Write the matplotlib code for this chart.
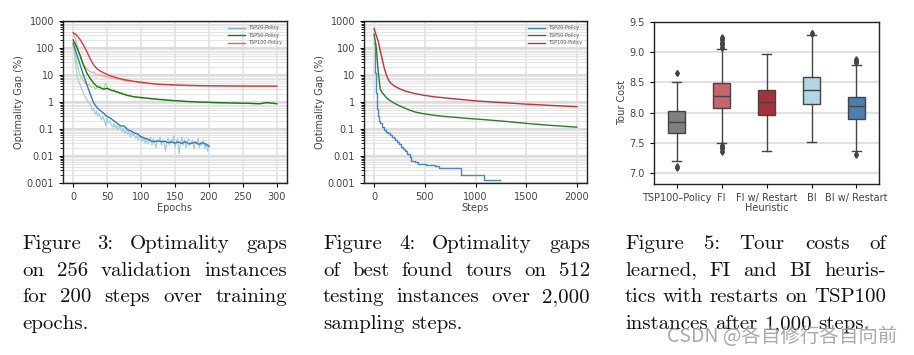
import numpy as np
import matplotlib
matplotlib.use("Agg")
import matplotlib.pyplot as plt
from matplotlib.ticker import FixedLocator, FixedFormatter, LogLocator, NullFormatter

W, H = 914, 355

# ---- Figure 3: validation gap over training epochs
EP20 = np.arange(0, 201, 2)
RAW20 = [150, 60, 20, 9, 6, 4.5, 3.2, 2.6, 1.8, 1.5, 1.3, 1.0, 0.9, 0.75, 0.5, 0.6, 0.35, 0.45, 0.3, 0.38,
         0.28, 0.22, 0.3, 0.2, 0.13, 0.25, 0.17, 0.2, 0.15, 0.12, 0.16, 0.11, 0.14, 0.09, 0.13, 0.1, 0.08,
         0.11, 0.07, 0.09, 0.065, 0.08, 0.05, 0.075, 0.055, 0.07, 0.045, 0.06, 0.04, 0.055, 0.045, 0.035,
         0.05, 0.03, 0.045, 0.028, 0.04, 0.05, 0.025, 0.045, 0.03, 0.02, 0.04, 0.035, 0.05, 0.025, 0.04,
         0.03, 0.015, 0.035, 0.045, 0.025, 0.04, 0.03, 0.055, 0.02, 0.035, 0.045, 0.012, 0.03, 0.05, 0.025,
         0.04, 0.02, 0.035, 0.045, 0.025, 0.03, 0.04, 0.018, 0.035, 0.028, 0.045, 0.02, 0.03, 0.025, 0.04,
         0.018, 0.03, 0.015, 0.025]
SM_EP20 = np.arange(0, 201, 5)
SM20 = [150, 60, 25, 10, 4.5, 2.0, 0.95, 0.62, 0.48, 0.38, 0.29, 0.25, 0.2, 0.16, 0.13, 0.13, 0.095,
        0.085, 0.072, 0.066, 0.052, 0.046, 0.042, 0.036, 0.034, 0.036, 0.034, 0.035, 0.031, 0.033, 0.03,
        0.033, 0.029, 0.034, 0.028, 0.03, 0.032, 0.027, 0.031, 0.028, 0.023]

EP_RAW = np.arange(0, 301, 3)
RAW50 = [120, 60, 25, 12, 8, 6, 5, 4.2, 4.5, 3.5, 3.8, 3.0, 3.6, 4.0, 2.8, 3.1, 5.0, 3.2, 2.8, 2.6, 2.9,
         2.3, 2.5, 2.1, 2.3, 1.9, 2.0, 1.7, 1.8, 1.6, 1.55, 1.6, 1.45, 1.5, 1.4, 1.42, 1.35, 1.38, 1.3, 1.32,
         1.25, 1.28, 1.22, 1.2, 1.23, 1.15, 1.18, 1.12, 1.14, 1.1, 1.12, 1.07, 1.09, 1.05, 1.07, 1.03, 1.05,
         1.01, 1.03, 0.99, 1.01, 0.98, 1.0, 0.97, 0.99, 0.96, 1.02, 0.95, 0.97, 0.94, 0.96, 0.93, 0.95,
         0.92, 0.94, 0.91, 0.93, 0.92, 0.9, 0.93, 0.91, 0.89, 0.92, 0.9, 0.88, 0.91, 0.89, 0.87, 0.9,
         0.86, 0.88, 0.85, 0.87, 0.9, 0.94, 0.92, 0.89, 0.9, 0.87, 0.88, 0.85]
RAW100 = [330, 220, 120, 60, 35, 25, 20, 16, 14, 12.5, 13, 11, 10, 10.5, 9.2, 9.5, 8.5, 8.8, 8, 7.5, 7.8,
          7.0, 7.2, 6.6, 6.8, 6.2, 6.3, 5.9, 6.0, 5.6, 5.7, 5.4, 5.3, 5.1, 5.0, 4.9, 4.85, 4.7, 4.75, 4.6,
          4.55, 4.5, 4.45, 4.4, 4.45, 4.35, 4.3, 4.35, 4.25, 4.2, 4.25, 4.15, 4.2, 4.1, 4.15, 4.1, 4.05,
          4.1, 4.0, 4.05, 4.0, 4.02, 3.95, 4.0, 3.97, 4.0, 3.93, 3.97, 3.92, 3.95, 3.9, 3.94, 3.89, 3.93,
          3.9, 3.88, 3.92, 3.87, 3.9, 3.86, 3.9, 3.85, 3.89, 3.86, 3.88, 3.84, 3.87, 3.85, 3.83, 3.86, 3.84,
          3.82, 3.86, 3.83, 3.85, 3.82, 3.84, 3.81, 3.83, 3.8, 3.82]
SM_EP = np.arange(0, 301, 5)
SM50 = [200, 110, 55, 24, 12, 7.5, 5.0, 3.8, 3.4, 3.0, 3.2, 2.8, 2.55, 2.35, 2.1, 1.9, 1.75, 1.65, 1.55,
        1.5, 1.46, 1.42, 1.38, 1.33, 1.3, 1.26, 1.23, 1.2, 1.17, 1.14, 1.12, 1.1, 1.08, 1.06, 1.04, 1.03,
        1.02, 1.0, 0.99, 0.99, 0.97, 0.96, 0.95, 0.94, 0.94, 0.93, 0.92, 0.92, 0.91, 0.91, 0.9, 0.9, 0.89,
        0.88, 0.87, 0.86, 0.9, 0.95, 0.92, 0.9, 0.86]
SM100 = [370, 300, 210, 130, 75, 40, 24, 17, 14, 12, 10.5, 9.3, 8.5, 7.8, 7.2, 6.8, 6.4, 6.1, 5.8, 5.6,
         5.4, 5.2, 5.0, 4.85, 4.7, 4.6, 4.5, 4.45, 4.4, 4.35, 4.3, 4.25, 4.2, 4.17, 4.14, 4.11, 4.08, 4.06,
         4.04, 4.02, 4.0, 3.99, 3.98, 3.97, 3.96, 3.95, 3.94, 3.93, 3.92, 3.91, 3.9, 3.9, 3.89, 3.89, 3.88,
         3.88, 3.87, 3.87, 3.86, 3.86, 3.85]

# ---- Figure 4: best found tours over sampling steps
STEPS = [0, 20, 40, 60, 80, 100, 125, 150, 175, 200, 250, 300, 350, 400, 500, 600, 700, 800, 900, 1000,
         1100, 1200, 1300, 1400, 1500, 1600, 1700, 1800, 1900, 2000]
S50 = [325, 110, 14, 3.0, 2.2, 1.8, 1.4, 1.18, 1.02, 0.9, 0.72, 0.6, 0.5, 0.43, 0.36, 0.32, 0.29, 0.27,
       0.25, 0.235, 0.22, 0.205, 0.19, 0.175, 0.162, 0.15, 0.14, 0.132, 0.124, 0.117]
S100 = [525, 300, 180, 80, 38, 18, 9, 5.8, 4.6, 3.9, 3.1, 2.6, 2.3, 2.05, 1.75, 1.55, 1.42, 1.3, 1.2, 1.1,
        1.04, 0.98, 0.93, 0.88, 0.83, 0.8, 0.76, 0.73, 0.7, 0.67]
S20_STEP = [0, 5, 10, 15, 20, 25, 30, 40, 50, 60, 80, 100, 120, 140, 160, 180, 200, 210, 230, 250, 265,
            280, 300, 320, 355, 365, 400, 430, 510, 600, 640, 700, 860, 1080, 1240]
S20 = [150, 40, 12, 5, 2.2, 1.0, 0.55, 0.3, 0.2, 0.16, 0.12, 0.095, 0.08, 0.07, 0.06, 0.052, 0.045,
       0.038, 0.033, 0.028, 0.022, 0.018, 0.015, 0.012, 0.0095, 0.0068, 0.0058, 0.0052, 0.0045, 0.0041,
       0.0037, 0.0035, 0.0019, 0.0013, 0.0013]

GAP_TICKS = [0.001, 0.01, 0.1, 1, 10, 100, 1000]
GAP_LABELS = ["0.001", "0.01", "0.1", "1", "10", "100", "1000"]

# ---- Figure 5: tour cost box plots
HEUR = ["TSP100\u2013Policy", "FI", "FI w/ Restart", "BI", "BI w/ Restart"]
WHISLO = [7.20, 7.49, 7.36, 7.51, 7.37]
Q1 = [7.67, 8.08, 7.96, 8.14, 7.89]
MED = [7.85, 8.27, 8.17, 8.37, 8.10]
Q3 = [8.02, 8.48, 8.37, 8.59, 8.26]
WHISHI = [8.50, 9.05, 8.96, 9.28, 8.79]
FLIERS = [[8.65, 8.66, 7.08, 7.10, 7.11],
          [9.07, 9.09, 9.11, 9.13, 9.15, 9.17, 9.19, 9.21, 9.23, 9.25,
           7.47, 7.45, 7.43, 7.41, 7.39, 7.37, 7.35],
          [],
          [9.30, 9.31, 9.32],
          [8.81, 8.83, 8.85, 8.87, 8.89, 7.30, 7.31]]
BOX_COLORS = ["#7f7f7f", "#c8646a", "#a8303a", "#b0d7e3", "#4a80b0"]

CAPTIONS = [
    ["Figure 3: Optimality gaps", "on 256 validation instances",
     "for 200 steps over training", "epochs."],
    ["Figure 4: Optimality gaps", "of best found tours on 512",
     "testing instances over 2,000", "sampling steps."],
    ["Figure 5:  Tour costs of", "learned, FI and BI heuris-",
     "tics with restarts on TSP100", "instances after 1,000 steps."],
]

plt.rcParams.update({"font.family": "DejaVu Sans", "font.size": 7,
                     "axes.edgecolor": "#222222", "axes.linewidth": 1.0,
                     "xtick.labelcolor": "#444444", "ytick.labelcolor": "#444444",
                     "axes.labelcolor": "#444444", "xtick.major.size": 3, "ytick.major.size": 3,
                     "ytick.minor.size": 2})

fig = plt.figure(figsize=(W / 100, H / 100), dpi=100)


def gap_axes(rect):
    ax = fig.add_axes(rect)
    ax.set_yscale("log")
    ax.set_ylim(0.001, 1000)
    ax.yaxis.set_major_locator(FixedLocator(GAP_TICKS))
    ax.yaxis.set_major_formatter(FixedFormatter(GAP_LABELS))
    ax.yaxis.set_minor_locator(LogLocator(base=10, subs=np.arange(2, 10), numticks=20))
    ax.yaxis.set_minor_formatter(NullFormatter())
    ax.grid(True, which="major", axis="y", color="#dcdcdc", lw=1.6)
    ax.grid(True, which="minor", axis="y", color="#e4e4e4", lw=0.8)
    ax.grid(True, which="major", axis="x", color="#e2e2e2", lw=1.2)
    ax.set_axisbelow(True)
    ax.set_ylabel("Optimality Gap (%)", labelpad=2)
    return ax


# Fig 3
ax = gap_axes([63 / W, 1 - 183 / H, 224 / W, 162 / H])
ax.plot(EP20, RAW20, color="#a6cee3", lw=0.9)
ax.plot(EP_RAW, RAW50, color="#addf8e", lw=0.9)
ax.plot(EP_RAW, RAW100, color="#f7a3a3", lw=0.9)
ax.plot(SM_EP20, SM20, color="#3b78b2", lw=1.0, label="TSP20-Policy")
ax.plot(SM_EP, SM50, color="#17761a", lw=1.0, label="TSP50-Policy")
ax.plot(SM_EP, SM100, color="#d43b3f", lw=1.0, label="TSP100-Policy")
ax.set_xticks([0, 50, 100, 150, 200, 250, 300])
ax.set_xlim(-15, 315)
ax.set_xlabel("Epochs", labelpad=1)
leg = ax.legend(fontsize=3.5, frameon=False, loc="upper right", handlelength=3.5, labelspacing=0.5)
for t in leg.get_texts():
    t.set_color("#555555")
leg.get_lines()[0].set_color("#8fb4d8")
leg.get_lines()[2].set_color("#e06068")

# Fig 4
ax = gap_axes([364 / W, 1 - 183 / H, 223 / W, 162 / H])
ax.plot(S20_STEP, S20, color="#4a86c2", lw=1.0, drawstyle="steps-post", label="TSP20-Policy")
ax.plot(STEPS, S50, color="#2a7d2a", lw=1.0, label="TSP50-Policy")
ax.plot(STEPS, S100, color="#c0313a", lw=1.0, label="TSP100-Policy")
ax.set_xticks([0, 500, 1000, 1500, 2000])
ax.set_xlim(-100, 2100)
ax.set_xlabel("Steps", labelpad=1)
leg = ax.legend(fontsize=3.5, frameon=False, loc="upper right", handlelength=3.5, labelspacing=0.5)
for t in leg.get_texts():
    t.set_color("#555555")

# Fig 5
ax = fig.add_axes([654 / W, 1 - 184 / H, 225 / W, 162.3 / H])
stats = [dict(label=l, whislo=a, q1=b, med=c, q3=d, whishi=e, fliers=f)
         for l, a, b, c, d, e, f in zip(HEUR, WHISLO, Q1, MED, Q3, WHISHI, FLIERS)]
bp = ax.bxp(stats, positions=range(len(HEUR)), widths=0.38, patch_artist=True, capwidths=0.2,
            boxprops=dict(edgecolor="#444444", lw=1.0),
            medianprops=dict(color="#444444", lw=1.0),
            whiskerprops=dict(color="#444444", lw=1.0),
            capprops=dict(color="#444444", lw=1.0),
            flierprops=dict(marker="d", markersize=2.8, markerfacecolor="#444444",
                            markeredgecolor="#444444"))
for patch, c in zip(bp["boxes"], BOX_COLORS):
    patch.set_facecolor(c)
ax.set_xlim(-0.5, len(HEUR) - 0.5)
ax.set_ylim(6.82, 9.5)
ax.set_yticks([7.0, 7.5, 8.0, 8.5, 9.0, 9.5])
ax.yaxis.grid(True, color="#e0e0e0", lw=1.5)
ax.set_axisbelow(True)
ax.set_ylabel("Tour Cost", labelpad=2)
ax.set_xlabel("Heuristic", labelpad=0)

# captions, justified like the LaTeX source
fig.canvas.draw()
r = fig.canvas.get_renderer()
CAP_X = [(22, 287), (323, 590), (625, 886)]
BASE0, DY, FS = 249, 26.7, 15
for (x0, x1), lines in zip(CAP_X, CAPTIONS):
    for i, line in enumerate(lines):
        y = 1 - (BASE0 + i * DY) / H
        words = line.split()
        ts = [fig.text(0, y, w, family="cmr10", fontsize=FS, va="baseline", color="#111111")
              for w in words]
        ws = [t.get_window_extent(r).width for t in ts]
        if i == len(lines) - 1 or len(words) == 1:
            gap = 0.333 * FS * 100 / 72
        else:
            gap = (x1 - x0 - sum(ws)) / (len(words) - 1)
        x = x0
        for t, w in zip(ts, ws):
            t.set_x(x / W)
            x += w + gap

fig.text(667 / W, 1 - 336 / H, "CSDN @各自修行各自向前", family=["Noto Sans CJK SC", "DejaVu Sans"],
         fontsize=14, color="#9a9a9a", alpha=0.85, va="center")

fig.savefig("out.png", dpi=100)
